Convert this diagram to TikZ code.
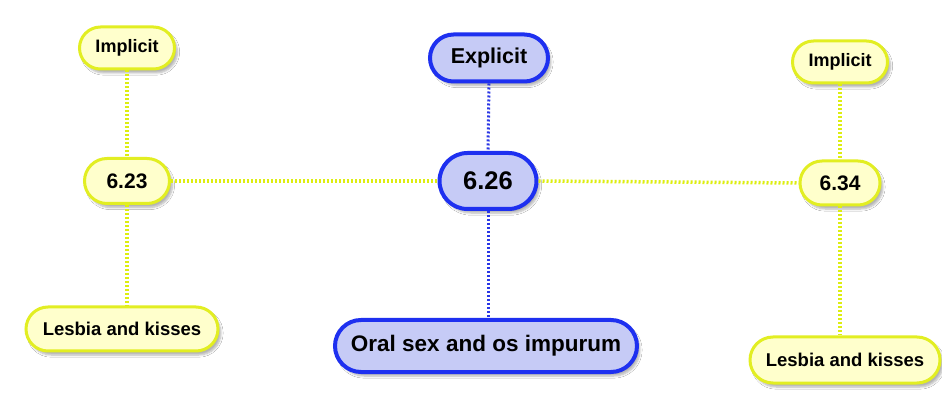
\documentclass[tikz,border=0pt]{standalone}
\usepackage{fontspec}
\setmainfont{Liberation Sans}
\usetikzlibrary{shadows.blur,shapes.misc}
\definecolor{ylwfill}{HTML}{FFFFCC}
\definecolor{ylwdraw}{HTML}{E2EE22}
\definecolor{ylwline}{HTML}{DDEE10}
\definecolor{bluefill}{HTML}{C6CBF6}
\definecolor{bluedraw}{HTML}{1E30F0}
\definecolor{blueline}{HTML}{2A36E6}
\tikzset{
  pill/.style={rounded rectangle, inner sep=0pt, font=\bfseries,
    blur shadow={shadow xshift=3pt, shadow yshift=-4pt, shadow blur steps=6, shadow opacity=30}},
  ynode/.style={pill, fill=ylwfill, draw=ylwdraw, line width=3pt},
  bnode/.style={pill, fill=bluefill, draw=bluedraw, line width=4pt},
  yline/.style={draw=ylwline, line width=3.5pt, dash pattern=on 2pt off 2pt},
  bline/.style={draw=blueline, line width=3pt, dash pattern=on 2pt off 2pt},
}
\begin{document}
\begin{tikzpicture}[x=1pt,y=-1pt]
\useasboundingbox[fill=white] (0,0) rectangle (942,411);
% nodes
\node[ynode, minimum width=95pt, minimum height=42pt, font=\bfseries\fontsize{18}{20}\selectfont] (impL) at (127,48) {Implicit};
\node[ynode, minimum width=95pt, minimum height=42pt, font=\bfseries\fontsize{18}{20}\selectfont] (impR) at (840,62) {Implicit};
\node[bnode, minimum width=118pt, minimum height=47pt, font=\bfseries\fontsize{21.5}{24}\selectfont] (expl) at (489,58) {Explicit};
\node[ynode, minimum width=85pt, minimum height=45pt, font=\bfseries\fontsize{21}{24}\selectfont] (n623) at (127,181) {6.23};
\node[bnode, minimum width=97pt, minimum height=56pt, font=\bfseries\fontsize{25.5}{28}\selectfont] (n626) at (488,181) {6.26};
\node[ynode, minimum width=80pt, minimum height=44pt, font=\bfseries\fontsize{21}{24}\selectfont] (n634) at (840,183) {6.34};
\node[ynode, minimum width=192pt, minimum height=44pt, font=\bfseries\fontsize{18.5}{20}\selectfont] (lesL) at (122,329) {Lesbia and kisses};
\node[ynode, minimum width=190pt, minimum height=46pt, font=\bfseries\fontsize{18.5}{20}\selectfont] (lesR) at (845,360) {Lesbia and kisses};
\node[bnode, minimum width=302pt, minimum height=52pt, font=\bfseries\fontsize{22.5}{25}\selectfont] (oral) at (486,346) {Oral sex and os impurum};
% connectors
\path[yline] (impL.south) -- (n623.north);
\path[yline] (n623.south) -- (n623.south |- lesL.north);
\path[yline] (n623.east) -- (n626.west);
\path[yline] (n626.east) -- (n634.west);
\path[yline] (impR.south) -- (n634.north);
\path[yline] (n634.south) -- (n634.south |- lesR.north);
\path[bline] (expl.south) -- (n626.north);
\path[bline] (n626.south) -- (n626.south |- oral.north);
\end{tikzpicture}
\end{document}
